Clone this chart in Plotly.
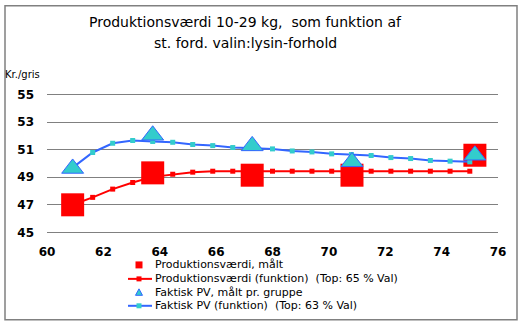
import plotly.graph_objects as go

# measured points
x_meas = [60.91, 63.75, 67.28, 70.82, 75.18]
pv_meas = [47.0, 49.32, 49.15, 49.15, 50.6]
fpv_meas = [49.64, 52.05, 51.28, 50.12, 50.6]

# function curves
x_func = [60.91, 61.62, 62.33, 63.04, 63.75, 64.46, 65.17, 65.88, 66.59, 67.30,
          68.0, 68.7, 69.4, 70.1, 70.8, 71.5, 72.2, 72.9, 73.6, 74.3, 75.0]
pv_func = [47.0, 47.54, 48.14, 48.62, 49.03, 49.22, 49.37, 49.44, 49.44, 49.44,
           49.44, 49.44, 49.44, 49.44, 49.44, 49.44, 49.44, 49.44, 49.44, 49.44, 49.44]
fpv_func = [49.7, 50.8, 51.47, 51.67, 51.6, 51.54, 51.38, 51.3, 51.16, 51.1,
            51.06, 50.91, 50.84, 50.7, 50.65, 50.58, 50.43, 50.36, 50.22, 50.17, 50.12]

x_ticks = [60, 62, 64, 66, 68, 70, 72, 74, 76]
y_ticks = [45, 47, 49, 51, 53, 55]

names = ["Produktionsværdi, målt",
         "Produktionsværdi (funktion)  (Top: 65 % Val)",
         "Faktisk PV, målt pr. gruppe",
         "Faktisk PV (funktion)  (Top: 63 % Val)"]

RED = "#FF0000"
BLUE = "#3366FF"
CYAN = "#33CCCC"
GRID = "#808080"

# plot-area geometry in pixels (for converting page positions to paper coords)
L, R, T, B = 47, 498, 92.6, 234.0
W, H = R - L, B - T


def px(xp):
    return (xp - L) / W


def py(yp):
    return (B - yp) / H


fig = go.Figure()
fig.add_trace(go.Scatter(x=x_meas, y=pv_meas, mode="markers", name=names[0],
                         marker=dict(symbol="square", size=23, color=RED)))
fig.add_trace(go.Scatter(x=x_func, y=pv_func, mode="lines+markers", name=names[1],
                         line=dict(color=RED, width=2),
                         marker=dict(symbol="square", size=5, color=RED)))
fig.add_trace(go.Scatter(x=x_func, y=fpv_func, mode="lines+markers", name=names[3],
                         line=dict(color=BLUE, width=2),
                         marker=dict(symbol="square", size=5, color=CYAN)))
fig.add_trace(go.Scatter(x=x_meas, y=fpv_meas, mode="markers", name=names[2],
                         marker=dict(symbol="triangle-up", size=19, color=CYAN,
                                     line=dict(color=BLUE, width=1))))

fig.update_layout(
    width=528, height=326,
    margin=dict(l=L, r=528 - R, t=T, b=326 - B),
    paper_bgcolor="white", plot_bgcolor="white",
    font=dict(family="DejaVu Sans", color="black"),
    showlegend=False,
    xaxis=dict(range=[60, 76], tickvals=x_ticks, showgrid=False, zeroline=False,
               showline=False, ticks="", ticklabelstandoff=9,
               tickfont=dict(size=12, family="DejaVu Sans", weight="bold")),
    yaxis=dict(range=[44.88, 55.12], tickvals=y_ticks, showgrid=True, gridcolor=GRID,
               gridwidth=1, zeroline=False, showline=False, ticks="", ticklabelstandoff=12,
               tickfont=dict(size=12, family="DejaVu Sans", weight="bold")),
)

# titles
fig.add_annotation(text="Produktionsværdi 10-29 kg,  som funktion af", xref="paper", yref="paper",
                   x=px(245), y=py(21), xanchor="center", yanchor="middle",
                   showarrow=False, font=dict(size=14, family="DejaVu Sans"))
fig.add_annotation(text="st. ford. valin:lysin-forhold", xref="paper", yref="paper",
                   x=px(245), y=py(42), xanchor="center", yanchor="middle",
                   showarrow=False, font=dict(size=14, family="DejaVu Sans"))
fig.add_annotation(text="Kr./gris", xref="paper", yref="paper",
                   x=px(3), y=py(74), xanchor="left", yanchor="middle",
                   showarrow=False, font=dict(size=10, family="DejaVu Sans"))

# outer border
fig.add_shape(type="rect", xref="paper", yref="paper",
              x0=px(5), x1=px(517), y0=py(320), y1=py(5),
              line=dict(color=GRID, width=1.5), fillcolor="rgba(0,0,0,0)", layer="below")

# legend (drawn as decoration)
leg_y = [265, 279, 292.5, 306]
sym_x = 139
for name, yy in zip(names, leg_y):
    fig.add_annotation(text=name, xref="paper", yref="paper", x=px(153), y=py(yy),
                       xanchor="left", yanchor="middle", showarrow=False,
                       font=dict(size=11, family="DejaVu Sans"))


def sq(cx, cy, s, color):
    fig.add_shape(type="rect", xref="paper", yref="paper",
                  x0=px(cx - s / 2), x1=px(cx + s / 2), y0=py(cy + s / 2), y1=py(cy - s / 2),
                  line=dict(width=0), fillcolor=color)


def ln(cy, color):
    fig.add_shape(type="line", xref="paper", yref="paper",
                  x0=px(128), x1=px(152), y0=py(cy), y1=py(cy),
                  line=dict(color=color, width=2))


sq(sym_x, leg_y[0], 7, RED)
ln(leg_y[1], RED)
sq(sym_x, leg_y[1], 5, RED)
tri = "M {:.5f} {:.5f} L {:.5f} {:.5f} L {:.5f} {:.5f} Z".format(
    px(sym_x - 3.5), py(leg_y[2] + 3), px(sym_x + 3.5), py(leg_y[2] + 3), px(sym_x), py(leg_y[2] - 3.5))
fig.add_shape(type="path", xref="paper", yref="paper", path=tri,
              line=dict(color=BLUE, width=1), fillcolor=CYAN)
ln(leg_y[3], BLUE)
sq(sym_x, leg_y[3], 5, CYAN)

fig.write_html("out.html")
